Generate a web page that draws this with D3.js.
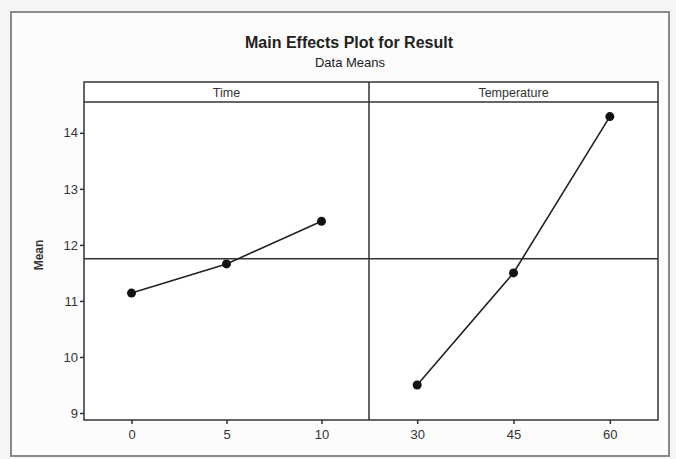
<!DOCTYPE html>
<html>
<head>
<meta charset="utf-8">
<script src="https://cdn.jsdelivr.net/npm/d3@7"></script>
<style>
	body { margin: 0; background: #f6f4f4; }
	svg { display: block; }
</style>
</head>
<body>
<svg id="canvas" width="676" height="459"></svg>
<script>
// data
var factorNames = ['Time', 'Temperature'];
var timeLevels = [0, 5, 10];
var timeMeans = [11.14, 11.66, 12.42];
var tempLevels = [30, 45, 60];
var tempMeans = [9.50, 11.50, 14.29];
var yTicks = [9, 10, 11, 12, 13, 14];

var chartTitle = 'Main Effects Plot for Result';
var chartSubtitle = 'Data Means';
var yAxisTitle = 'Mean';

var fontFamily = '"Liberation Sans", Arial, sans-serif';
var lineColor = '#333';

var svg = d3.select('#canvas');

// outer frame of the scanned figure
svg.append('rect')
	.attr('x', 11).attr('y', 12)
	.attr('width', 658).attr('height', 444)
	.attr('fill', '#fdfcfc')
	.attr('stroke', '#8c8a8a')
	.attr('stroke-width', 2);

// titles
svg.append('text')
	.attr('x', 349).attr('y', 48)
	.attr('text-anchor', 'middle')
	.style('font', 'bold 16px ' + fontFamily)
	.attr('fill', '#222')
	.text(chartTitle);
svg.append('text')
	.attr('x', 350).attr('y', 67)
	.attr('text-anchor', 'middle')
	.style('font', '13px ' + fontFamily)
	.attr('fill', '#222')
	.text(chartSubtitle);

// plot area
var plot = { left: 84, right: 658, top: 82, headerBottom: 102, bottom: 420, divider: 369 };

var y = d3.scaleLinear().domain([8.875, 14.55]).range([plot.bottom, plot.headerBottom]);

var panels = [
	{ name: factorNames[0], levels: timeLevels, means: timeMeans, x0: plot.left, x1: plot.divider },
	{ name: factorNames[1], levels: tempLevels, means: tempMeans, x0: plot.divider, x1: plot.right }
];

// white panel background
svg.append('rect')
	.attr('x', plot.left).attr('y', plot.top)
	.attr('width', plot.right - plot.left).attr('height', plot.bottom - plot.top)
	.attr('fill', '#fff');

// grand mean reference line
var grandMean = d3.mean(timeMeans.concat(tempMeans));
svg.append('line')
	.attr('x1', plot.left).attr('x2', plot.right)
	.attr('y1', y(grandMean)).attr('y2', y(grandMean))
	.attr('stroke', lineColor).attr('stroke-width', 1.5);

// y axis
var yAxis = svg.append('g')
	.attr('transform', 'translate(' + plot.left + ',0)')
	.call(d3.axisLeft(y).tickValues(yTicks).tickSize(4).tickPadding(2).tickFormat(d3.format('d')));
yAxis.select('.domain').remove();
yAxis.selectAll('line').attr('stroke', lineColor).attr('stroke-width', 1.5);
yAxis.selectAll('text').style('font', '13px ' + fontFamily).attr('fill', '#333');

svg.append('text')
	.attr('transform', 'translate(43,' + 255 + ') rotate(-90)')
	.attr('text-anchor', 'middle')
	.style('font', 'bold 12px ' + fontFamily)
	.attr('fill', '#333')
	.text(yAxisTitle);

panels.forEach(function (p) {
	var x = d3.scalePoint().domain(p.levels).range([p.x0, p.x1]).padding(0.5);

	// header label
	svg.append('text')
		.attr('x', (p.x0 + p.x1) / 2).attr('y', 97)
		.attr('text-anchor', 'middle')
		.style('font', '12.5px ' + fontFamily)
		.attr('fill', '#333')
		.text(p.name);

	// x axis
	var xAxis = svg.append('g')
		.attr('transform', 'translate(0,' + plot.bottom + ')')
		.call(d3.axisBottom(x).tickSize(4).tickPadding(6));
	xAxis.select('.domain').remove();
	xAxis.selectAll('line').attr('stroke', lineColor).attr('stroke-width', 1.5);
	xAxis.selectAll('text').style('font', '13px ' + fontFamily).attr('fill', '#333');

	var pts = p.levels.map(function (lv, i) { return { level: lv, mean: p.means[i] }; });

	var line = d3.line()
		.x(function (d) { return x(d.level); })
		.y(function (d) { return y(d.mean); });

	svg.append('path')
		.attr('d', line(pts))
		.attr('fill', 'none')
		.attr('stroke', '#222')
		.attr('stroke-width', 1.6);

	svg.selectAll('circle.p' + p.name)
		.data(pts)
		.enter()
		.append('circle')
		.attr('cx', function (d) { return x(d.level); })
		.attr('cy', function (d) { return y(d.mean); })
		.attr('r', 4.5)
		.attr('fill', '#111');
});

// panel frame, header strip and divider
svg.append('rect')
	.attr('x', plot.left).attr('y', plot.top)
	.attr('width', plot.right - plot.left).attr('height', plot.bottom - plot.top)
	.attr('fill', 'none')
	.attr('stroke', lineColor).attr('stroke-width', 1.5);
svg.append('line')
	.attr('x1', plot.left).attr('x2', plot.right)
	.attr('y1', plot.headerBottom).attr('y2', plot.headerBottom)
	.attr('stroke', lineColor).attr('stroke-width', 1.5);
svg.append('line')
	.attr('x1', plot.divider).attr('x2', plot.divider)
	.attr('y1', plot.top).attr('y2', plot.bottom)
	.attr('stroke', lineColor).attr('stroke-width', 1.5);
</script>
</body>
</html>
